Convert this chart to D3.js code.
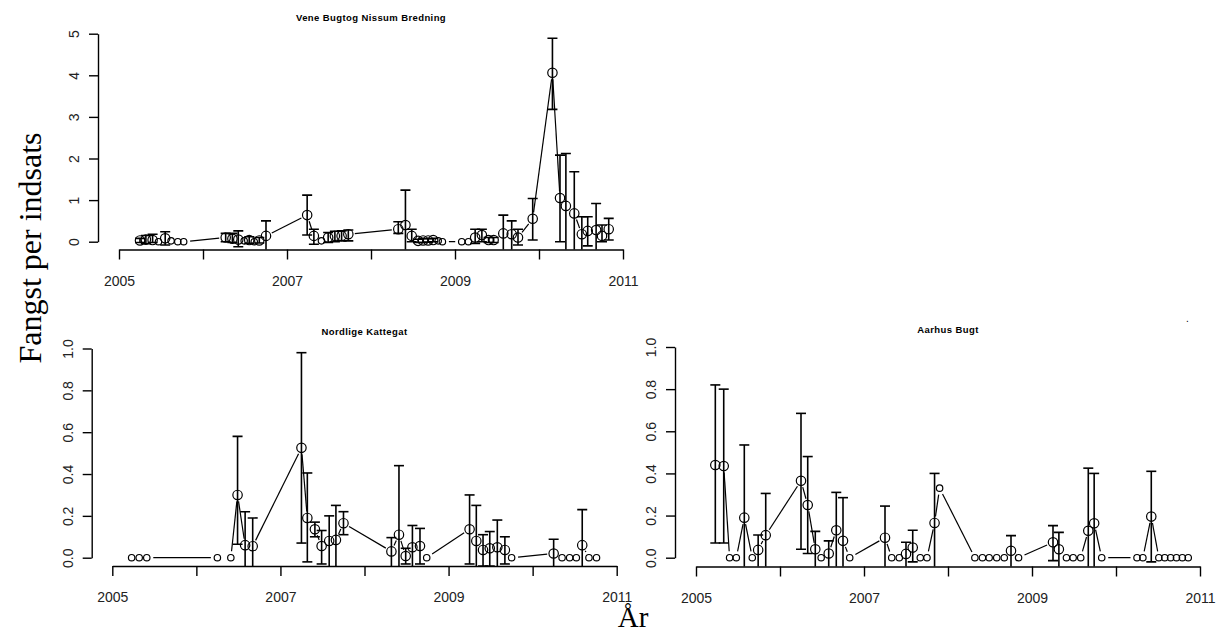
<!DOCTYPE html>
<html><head><meta charset="utf-8">
<script src="https://cdn.jsdelivr.net/npm/d3@7"></script>
<style>
body{margin:0;background:#fff;}
svg{display:block;}
</style></head>
<body>
<svg id="chart" width="1216" height="632"></svg>
<script>
// ---------- DATA ----------
const xTickYears = [2005, 2006, 2007, 2008, 2009, 2010, 2011];
const xTickLabels = ["2005", "", "2007", "", "2009", "", "2011"];

const topTitle = "Vene Bugtog Nissum Bredning";
const topYTicks = [0, 1, 2, 3, 4, 5];
const topYears = [2005.25,2005.32,2005.40,2005.47,2005.55,2005.62,2005.70,2005.77,
  2006.27,2006.35,2006.42,2006.49,2006.55,2006.61,2006.67,2006.75,
  2007.24,2007.32,2007.41,2007.49,2007.57,2007.65,2007.73,
  2008.325,2008.41,2008.485,2008.56,2008.62,2008.68,2008.74,2008.80,2008.85,
  2009.08,2009.16,2009.24,2009.32,2009.40,2009.46,2009.575,2009.675,2009.75,2009.925,
  2010.16,2010.25,2010.32,2010.42,2010.51,2010.58,2010.68,2010.75,2010.83];
const topValues = [0.03,0.05,0.04,0,0.08,0.02,0,0,
  0.1,0.07,0.05,0.02,0.04,0,0.03,0.14,
  0.64,0.14,0.02,0.1,0.14,0.14,0.18,
  0.3,0.4,0.14,0.02,0.03,0.03,0.04,0.02,0,
  0,0,0.1,0.16,0.04,0.04,0.2,0.18,0.1,0.55,
  4.06,1.05,0.86,0.68,0.18,0.26,0.28,0.14,0.3];
const topLower = [-0.02,-0.05,-0.02,null,-0.08,null,null,null,
  0.0,-0.02,-0.12,null,-0.04,null,-0.03,-0.3,
  0.16,-0.06,null,-0.02,0.0,0.02,0.02,
  0.2,-0.3,0.0,-0.02,-0.02,-0.01,0.0,null,null,
  null,null,-0.04,0.0,-0.02,-0.02,-0.3,-0.3,-0.08,0.04,
  3.18,0.0,-0.4,-0.4,-0.3,-0.1,-0.4,0.0,0.04];
const topUpper = [0.08,0.15,0.18,null,0.24,null,null,null,
  0.2,0.2,0.26,null,0.12,null,0.1,0.5,
  1.12,0.3,null,0.22,0.25,0.26,0.28,
  0.48,1.24,0.3,0.06,0.08,0.07,0.08,null,null,
  null,null,0.3,0.3,0.1,0.1,0.64,0.5,0.3,1.04,
  4.89,2.08,2.12,1.68,0.6,0.6,0.92,0.4,0.56];

const nkTitle = "Nordlige Kattegat";
const bottomYTicks = [0, 0.2, 0.4, 0.6, 0.8, 1.0];
const nkYears = [2005.23,2005.32,2005.41,2006.25,2006.41,2006.49,2006.58,2006.67,
  2007.25,2007.32,2007.41,2007.49,2007.58,2007.66,2007.75,
  2008.32,2008.41,2008.49,2008.57,2008.66,2008.74,
  2009.25,2009.33,2009.41,2009.49,2009.58,2009.67,2009.75,
  2010.25,2010.35,2010.44,2010.52,2010.59,2010.67,2010.76];
const nkValues = [0,0,0,0,0,0.30,0.06,0.055,
  0.525,0.19,0.136,0.056,0.08,0.085,0.165,
  0.03,0.11,0.008,0.05,0.056,0,
  0.136,0.08,0.037,0.045,0.05,0.037,0,
  0.02,0,0,0,0.06,0,0];
const nkLower = [null,null,null,null,null,0.064,-0.1,-0.1,
  0.07,-0.02,0.10,-0.03,-0.1,-0.1,0.11,
  -0.1,-0.1,-0.03,-0.05,-0.03,null,
  -0.03,-0.1,-0.04,-0.04,-0.08,-0.03,null,
  -0.05,null,null,null,-0.1,null,null];
const nkUpper = [null,null,null,null,null,0.58,0.22,0.19,
  0.98,0.405,0.17,0.13,0.2,0.25,0.22,
  0.096,0.44,0.045,0.154,0.14,null,
  0.30,0.25,0.11,0.125,0.18,0.10,null,
  0.088,null,null,null,0.23,null,null];

const abTitle = "Aarhus Bugt";
const abYears = [2005.23,2005.33,2005.40,2005.48,2005.575,2005.67,2005.74,2005.83,
  2006.25,2006.33,2006.42,2006.49,2006.58,2006.67,2006.75,2006.83,
  2007.25,2007.33,2007.42,2007.50,2007.58,2007.67,2007.75,2007.84,2007.90,
  2008.32,2008.41,2008.49,2008.58,2008.67,2008.75,2008.84,
  2009.25,2009.32,2009.41,2009.49,2009.58,2009.67,2009.74,2009.83,
  2010.25,2010.32,2010.42,2010.51,2010.58,2010.65,2010.72,2010.79,2010.86];
const abValues = [0.44,0.435,0,0,0.19,0,0.037,0.107,
  0.365,0.25,0.04,0,0.02,0.13,0.08,0,
  0.095,0,0,0.018,0.048,0,0,0.165,0.33,
  0,0,0,0,0,0.033,0,
  0.073,0.04,0,0,0,0.128,0.163,0,
  0,0,0.195,0,0,0,0,0,0];
const abLower = [0.07,0.07,null,null,-0.1,null,-0.05,-0.1,
  0.04,0.02,-0.05,null,-0.05,-0.1,-0.1,null,
  -0.1,null,null,-0.05,-0.02,null,null,-0.1,null,
  null,null,null,null,null,-0.05,null,
  -0.014,-0.05,null,null,null,-0.2,-0.1,null,
  null,null,-0.02,null,null,null,null,null,null];
const abUpper = [0.82,0.80,null,null,0.535,null,0.108,0.305,
  0.685,0.48,0.125,null,0.08,0.31,0.285,null,
  0.245,null,null,0.073,0.13,null,null,0.40,null,
  null,null,null,null,null,0.105,null,
  0.152,0.12,null,null,null,0.425,0.40,null,
  null,null,0.41,null,null,null,null,null,null];

const yAxisTitle = "Fangst per indsats";
const xAxisTitle = "År";

// ---------- DRAWING ----------
const svg = d3.select("#chart");

function makeSeries(years, values, lower, upper) {
  return years.map((yr, i) => ({x: yr, v: values[i], lo: lower[i], hi: upper[i]}));
}

function drawPanel(cfg, id) {
  const {title, series, yTicks, yMax, yAxisX, xAxisY, x2005, x2011, y0, yTop, tickFmt, titleY} = cfg;
  const x = d3.scaleLinear().domain([2005, 2011]).range([x2005, x2011]);
  const y = d3.scaleLinear().domain([0, yMax]).range([y0, yTop]);
  const right = x2011 + (x2005 - yAxisX);
  const g = svg.append("g");

  svg.append("clipPath").attr("id", "clip" + id)
    .append("rect").attr("x", yAxisX).attr("y", 0)
    .attr("width", right - yAxisX + 10).attr("height", xAxisY);

  // X axis
  const xa = g.append("g").attr("transform", `translate(0,${xAxisY})`)
    .call(d3.axisBottom(x).tickValues(xTickYears).tickSize(10).tickSizeOuter(0)
      .tickFormat((d, i) => xTickLabels[i]));
  xa.select(".domain").attr("stroke", "#000").attr("stroke-width", 1.4);
  xa.selectAll(".tick line").attr("stroke", "#000").attr("stroke-width", 1.4);
  xa.selectAll(".tick text").attr("y", 36).attr("dy", 0)
    .attr("font-family", "Liberation Sans, Arial, sans-serif").attr("font-size", 14).attr("fill", "#222");

  // Y axis
  const ya = g.append("g").attr("transform", `translate(${yAxisX},0)`)
    .call(d3.axisLeft(y).tickValues(yTicks).tickSize(9).tickSizeOuter(0).tickFormat(tickFmt));
  ya.select(".domain").attr("stroke", "#000").attr("stroke-width", 1.4);
  ya.selectAll(".tick line").attr("stroke", "#000").attr("stroke-width", 1.4);
  ya.selectAll(".tick text").attr("transform", "rotate(-90)")
    .attr("x", 0).attr("y", -19).attr("dy", 0).attr("text-anchor", "middle")
    .attr("font-family", "Liberation Sans, Arial, sans-serif").attr("font-size", 14).attr("fill", "#222");

  // Title
  g.append("text").attr("x", (yAxisX + right) / 2).attr("y", titleY)
    .attr("text-anchor", "middle").attr("font-family", "Liberation Sans, Arial, sans-serif")
    .attr("font-weight", "bold").attr("font-size", 9.5).attr("letter-spacing", 0.4).text(title);

  const plot = g.append("g").attr("clip-path", `url(#clip${id})`);
  const rBig = 4.7, rSmall = 3.2, gap = 6.5;
  const rad = d => (d.lo === null ? rSmall : rBig);

  // connecting segments (type "b": gaps around points)
  for (let i = 0; i < series.length - 1; i++) {
    const a = series[i], b = series[i + 1];
    const ax = x(a.x), ay = y(a.v), bx = x(b.x), by = y(b.v);
    const len = Math.hypot(bx - ax, by - ay);
    if (len <= 2 * gap + 1) continue;
    const ux = (bx - ax) / len, uy = (by - ay) / len;
    plot.append("line")
      .attr("x1", ax + ux * gap).attr("y1", ay + uy * gap)
      .attr("x2", bx - ux * gap).attr("y2", by - uy * gap)
      .attr("stroke", "#000").attr("stroke-width", 1.2);
  }

  // error bars
  const eb = series.filter(d => d.lo !== null);
  const cap = 5;
  plot.selectAll(".eb").data(eb).enter().append("line")
    .attr("x1", d => x(d.x)).attr("x2", d => x(d.x))
    .attr("y1", d => y(d.lo)).attr("y2", d => y(d.hi))
    .attr("stroke", "#000").attr("stroke-width", 1.6);
  plot.selectAll(".cu").data(eb).enter().append("line")
    .attr("x1", d => x(d.x) - cap).attr("x2", d => x(d.x) + cap)
    .attr("y1", d => y(d.hi)).attr("y2", d => y(d.hi))
    .attr("stroke", "#000").attr("stroke-width", 1.6);
  plot.selectAll(".cl").data(eb).enter().append("line")
    .attr("x1", d => x(d.x) - cap).attr("x2", d => x(d.x) + cap)
    .attr("y1", d => y(d.lo)).attr("y2", d => y(d.lo))
    .attr("stroke", "#000").attr("stroke-width", 1.6);

  // points
  plot.selectAll(".pt").data(series).enter().append("circle")
    .attr("cx", d => x(d.x)).attr("cy", d => y(d.v)).attr("r", rad)
    .attr("fill", "none").attr("stroke", "#000").attr("stroke-width", 1.2);
}

drawPanel({
  title: topTitle, series: makeSeries(topYears, topValues, topLower, topUpper),
  yTicks: topYTicks, yMax: 5, yAxisX: 98, xAxisY: 249.5, x2005: 119, x2011: 623,
  y0: 241.7, yTop: 33.7, tickFmt: d3.format("d"), titleY: 21
}, 1);

drawPanel({
  title: nkTitle, series: makeSeries(nkYears, nkValues, nkLower, nkUpper),
  yTicks: bottomYTicks, yMax: 1, yAxisX: 91.7, xAxisY: 566, x2005: 112.3, x2011: 616.7,
  y0: 557.7, yTop: 348.5, tickFmt: d3.format(".1f"), titleY: 335
}, 2);

drawPanel({
  title: abTitle, series: makeSeries(abYears, abValues, abLower, abUpper),
  yTicks: bottomYTicks, yMax: 1, yAxisX: 675, xAxisY: 566.5, x2005: 696, x2011: 1200,
  y0: 557.7, yTop: 347, tickFmt: d3.format(".1f"), titleY: 333
}, 3);

// stray dot near top-right of the last panel
svg.append("text").attr("x", 1186).attr("y", 322).attr("font-size", 10)
  .attr("font-family", "Liberation Sans, Arial, sans-serif").text(".");

// outer labels
svg.append("text").attr("transform", "translate(41,248) rotate(-90)")
  .attr("text-anchor", "middle").attr("font-family", "Liberation Serif, Times New Roman, serif")
  .attr("font-size", 32).attr("fill", "#000").text(yAxisTitle);
svg.append("text").attr("x", 633).attr("y", 627)
  .attr("text-anchor", "middle").attr("font-family", "Liberation Serif, Times New Roman, serif")
  .attr("font-size", 29).attr("fill", "#000").text(xAxisTitle);
</script>
</body></html>
